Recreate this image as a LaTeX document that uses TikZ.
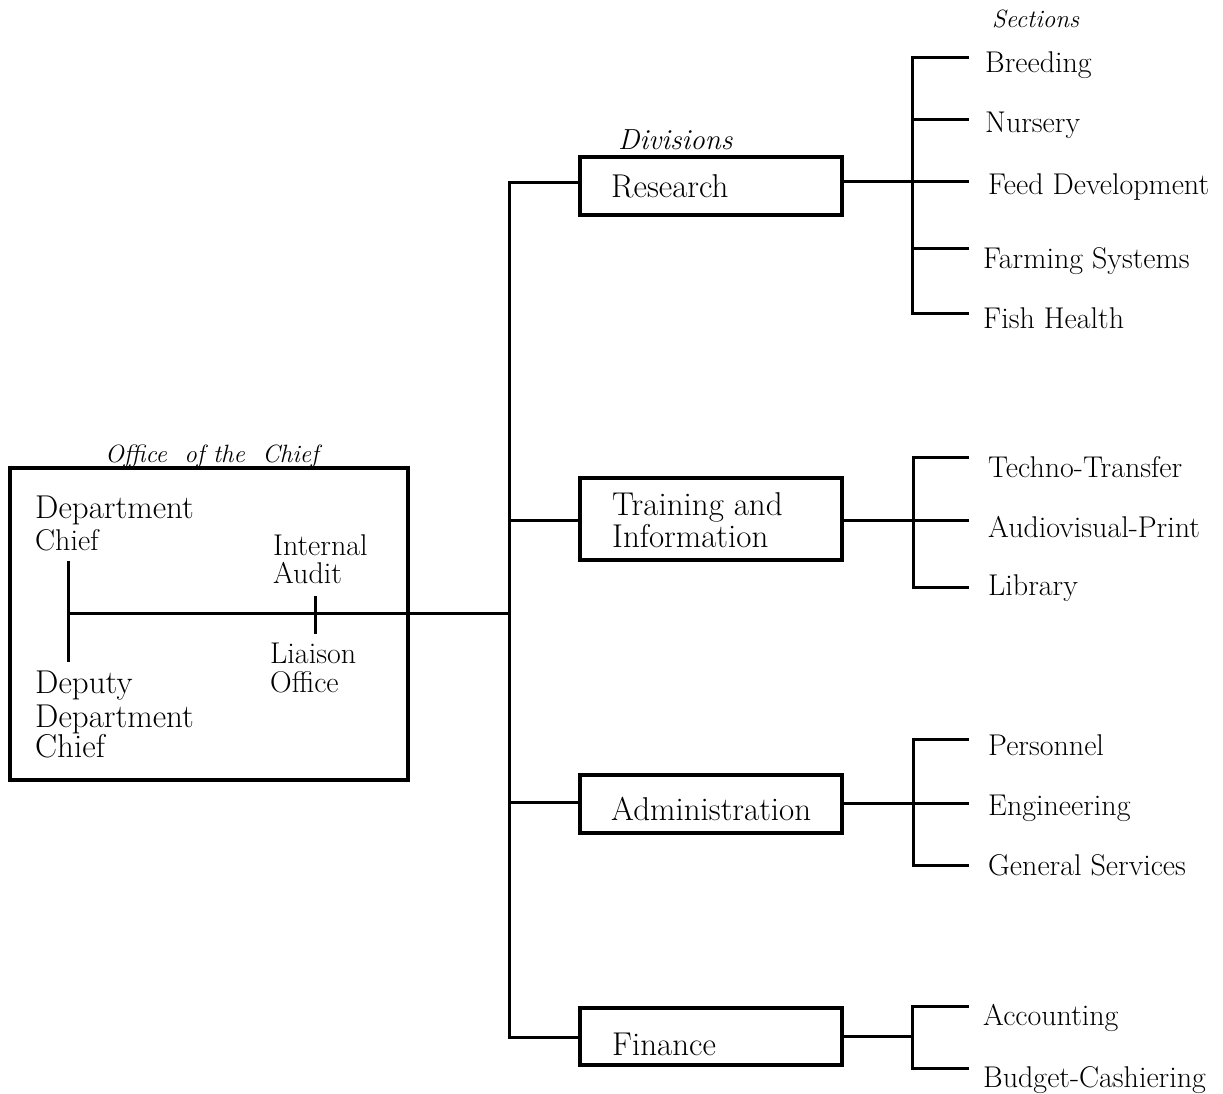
\documentclass[tikz,border=0pt]{standalone}
\usepackage{fontspec}
\begin{document}
\begin{tikzpicture}[x=1pt,y=-1pt,
  ln/.style={line width=3pt, line cap=rect},
  divbox/.style={draw, line width=3.2pt, rectangle, minimum width=262pt, inner sep=0pt},
  sec/.style={anchor=base west, inner sep=0pt, font=\fontsize{30}{34}\selectfont},
  divtxt/.style={anchor=base west, inner sep=0pt, font=\fontsize{33}{36}\selectfont, align=left},
  big/.style={anchor=base west, inner sep=0pt, font=\fontsize{33}{36}\selectfont},
  small/.style={anchor=base west, inner sep=0pt, font=\fontsize{30}{33}\selectfont},
  head/.style={anchor=base west, inner sep=0pt, font=\fontsize{25}{28}\selectfont\itshape}
]
\useasboundingbox (0,0) rectangle (1223,1094);

% ---------- Office of the Chief ----------
\node[draw, line width=3.2pt, minimum width=398pt, minimum height=312pt, inner sep=0pt] (office) at (209,624) {};
\node[head] (offhead) at (105,462) {Office\ \ of the\ \ Chief};
\node[big] (dept) at (35,518) {Department};
\node[small] (chief) at (35,550) {Chief};
\node[big] (deputy) at (35,693) {Deputy};
\node[big] (deputy2) at (35,727) {Department};
\node[big] (deputy3) at (35,757) {Chief};
\node[small] (ia1) at (273,555) {Internal};
\node[small] (ia2) at (273,583) {Audit};
\node[small] (lo1) at (270,663) {Liaison};
\node[small] (lo2) at (270,692) {Office};

\coordinate (dtop) at (68,561);
\coordinate (dbot) at (68,662);
\coordinate (dmid) at (68,613);
\coordinate (tickt) at (315,596);
\coordinate (tickb) at (315,634);
\coordinate (tmid) at (509,613);
\draw[ln, line cap=butt] (dtop) -- (dbot);
\draw[ln, line cap=butt] (tickt) -- (tickb);
\draw[ln, line cap=butt] (dmid) -- (tmid);

% ---------- trunk ----------
\coordinate (ttop) at (509,183);
\coordinate (tbot) at (509,1037);
\draw[ln] (ttop) -- (tbot);

% ---------- Divisions ----------
\node[head, font=\fontsize{29}{31}\selectfont\itshape] (divhead) at (618,150) {Divisions};
\node[divbox, minimum height=58pt] (res) at (711,186) {};
\node[divtxt] (restxt) at (611,197) {Research};
\node[divbox, minimum height=82pt] (trn) at (711,519) {};
\node[divtxt] (trntxt1) at (612,515) {Training and};
\node[divtxt] (trntxt2) at (612,547) {Information};
\node[divbox, minimum height=58pt] (adm) at (711,804) {};
\node[divtxt] (admtxt) at (611,820) {Administration};
\node[divbox, minimum height=57pt] (fin) at (711,1036.5) {};
\node[divtxt] (fintxt) at (612,1055) {Finance};

\coordinate (t2) at (509,520);
\coordinate (t3) at (509,802);
\draw[ln] (ttop) -- (ttop -| res.west);
\draw[ln] (t2) -- (t2 -| trn.west);
\draw[ln] (t3) -- (t3 -| adm.west);
\draw[ln] (tbot) -- (tbot -| fin.west);

% ---------- Sections: Research ----------
\node[head] (sechead) at (992,28) {Sections};
\coordinate (r1) at (967,58);
\coordinate (r2) at (967,120);
\coordinate (r3) at (967,182);
\coordinate (r4) at (967,248);
\coordinate (r5) at (967,313);
\coordinate (rb) at (912,0);
\draw[ln, line cap=butt] (r1 -| rb) -- (r5 -| rb);
\draw[ln] (r1 -| rb) -- (r1);
\draw[ln] (r2 -| rb) -- (r2);
\draw[ln] (r4 -| rb) -- (r4);
\draw[ln] (r5 -| rb) -- (r5);
\draw[ln] (r3 -| res.east) -- (r3);
\node[sec] (s1) at (985,73) {Breeding};
\node[sec] (s2) at (985,133) {Nursery};
\node[sec] (s3) at (988,195) {Feed Development};
\node[sec] (s4) at (983,268) {Farming Systems};
\node[sec] (s5) at (983,328) {Fish Health};

% ---------- Sections: Training ----------
\coordinate (q1) at (967,457);
\coordinate (q2) at (967,520);
\coordinate (q3) at (967,587);
\coordinate (qb) at (913,0);
\draw[ln, line cap=butt] (q1 -| qb) -- (q3 -| qb);
\draw[ln] (q1 -| qb) -- (q1);
\draw[ln] (q3 -| qb) -- (q3);
\draw[ln] (q2 -| trn.east) -- (q2);
\node[sec] (s6) at (988,477) {Techno-Transfer};
\node[sec] (s7) at (988,537) {Audiovisual-Print};
\node[sec] (s8) at (988,595) {Library};

% ---------- Sections: Administration ----------
\coordinate (p1) at (967,739);
\coordinate (p2) at (967,803);
\coordinate (p3) at (967,865);
\draw[ln, line cap=butt] (p1 -| qb) -- (p3 -| qb);
\draw[ln] (p1 -| qb) -- (p1);
\draw[ln] (p3 -| qb) -- (p3);
\draw[ln] (p2 -| adm.east) -- (p2);
\node[sec] (s9) at (988,755) {Personnel};
\node[sec] (s10) at (988,815) {Engineering};
\node[sec] (s11) at (988,875) {General Services};

% ---------- Sections: Finance ----------
\coordinate (f1) at (967,1006);
\coordinate (f2) at (967,1068);
\coordinate (fmid) at (912,1036);
\draw[ln, line cap=butt] (f1 -| rb) -- (f2 -| rb);
\draw[ln] (f1 -| rb) -- (f1);
\draw[ln] (f2 -| rb) -- (f2);
\draw[ln] (fmid -| fin.east) -- (fmid);
\node[sec] (s12) at (983,1025) {Accounting};
\node[sec] (s13) at (983,1087) {Budget-Cashiering};
\end{tikzpicture}
\end{document}
